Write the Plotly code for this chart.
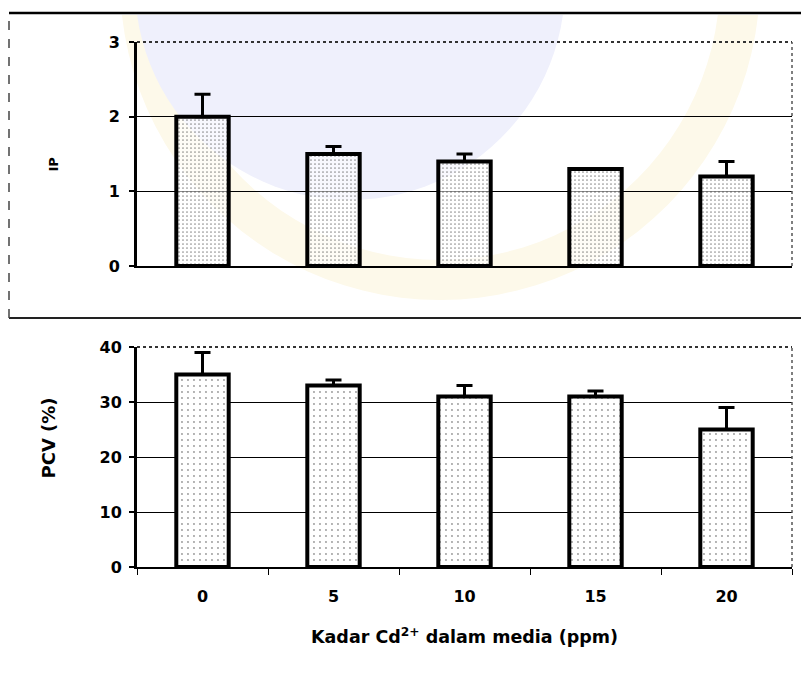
import math
import plotly.graph_objects as go

categories = ["0", "5", "10", "15", "20"]
ip_values = [2.0, 1.5, 1.4, 1.3, 1.2]
ip_errors = [0.3, 0.1, 0.1, 0.0, 0.2]
pcv_values = [35, 33, 31, 31, 25]
pcv_errors = [4, 1, 2, 1, 4]
ip_ticks = [0, 1, 2, 3]
pcv_ticks = [0, 10, 20, 30, 40]

# page body has an 8px margin; figure sized to fit the window exactly
OFF = 8
W, H = 809 - OFF, 682 - OFF
def px_x(p): return (p - OFF) / W
def px_y(p): return 1 - (p - OFF) / H

FONT = "DejaVu Sans, Arial, sans-serif"
tick_font = dict(family=FONT, size=16, color="black", weight="bold")
pattern_top = dict(shape=".", fgcolor="#222", bgcolor="rgba(255,255,255,0.55)",
                   size=4, solidity=0.15)
pattern_bot = dict(shape=".", fgcolor="#333", bgcolor="white", size=6, solidity=0.08)

fig = go.Figure()
fig.add_trace(go.Bar(
    x=categories, y=ip_values, xaxis="x", yaxis="y", width=0.4,
    marker=dict(color="rgba(255,255,255,0.55)", line=dict(color="black", width=4),
                pattern=pattern_top),
    error_y=dict(type="data", symmetric=False, array=ip_errors,
                 arrayminus=[0] * len(ip_errors), color="black", thickness=3, width=8),
    showlegend=False))
fig.add_trace(go.Bar(
    x=categories, y=pcv_values, xaxis="x2", yaxis="y2", width=0.4,
    marker=dict(color="white", line=dict(color="black", width=4), pattern=pattern_bot),
    error_y=dict(type="data", symmetric=False, array=pcv_errors,
                 arrayminus=[0] * len(pcv_errors), color="black", thickness=3, width=8),
    showlegend=False))

xdom = [px_x(137), px_x(792)]

fig.update_layout(
    width=W, height=H,
    margin=dict(l=0, r=0, t=0, b=0, autoexpand=False),
    paper_bgcolor="white", plot_bgcolor="rgba(0,0,0,0)",
    font=dict(family=FONT, color="black"),
    xaxis=dict(domain=xdom, anchor="y", type="category", showticklabels=False,
               showline=True, linecolor="black", linewidth=2, ticks="",
               showgrid=False, automargin=False),
    yaxis=dict(domain=[px_y(266), px_y(42)], anchor="x", range=[0, 3],
               tickvals=ip_ticks, ticks="outside", ticklen=5, tickwidth=2,
               tickcolor="black", showline=True, linecolor="black", linewidth=3,
               showgrid=True, gridcolor="black", gridwidth=1,
               tickfont=tick_font, ticklabelstandoff=6,
               zeroline=False, automargin=False),
    xaxis2=dict(domain=xdom, anchor="y2", type="category", tickson="boundaries",
                ticks="outside", ticklen=6, tickwidth=1, tickcolor="black",
                showline=True, linecolor="black", linewidth=2,
                tickfont=tick_font, ticklabelstandoff=14,
                showgrid=False, automargin=False),
    yaxis2=dict(domain=[px_y(567), px_y(347)], anchor="x2", range=[0, 40],
                tickvals=pcv_ticks, ticks="outside", ticklen=5, tickwidth=2,
                tickcolor="black", showline=True, linecolor="black", linewidth=3,
                showgrid=True, gridcolor="black", gridwidth=1,
                tickfont=tick_font, ticklabelstandoff=4,
                zeroline=False, automargin=False),
)

# axis titles
fig.add_annotation(text="<b>IP</b>", xref="paper", yref="paper",
                   x=px_x(43), y=px_y(156), showarrow=False, textangle=-90,
                   font=dict(family=FONT, size=13, color="black"))
fig.add_annotation(text="<b>PCV (%)</b>", xref="paper", yref="paper",
                   x=px_x(35), y=px_y(438), showarrow=False, textangle=-90,
                   font=dict(family=FONT, size=18, color="black"))
fig.add_annotation(text="<b>Kadar Cd<sup>2+</sup> dalam media (ppm)</b>",
                   xref="paper", yref="paper", x=px_x(465), y=px_y(649),
                   showarrow=False, font=dict(family=FONT, size=17.5, color="black"))

# faint watermark emblem in the background, clipped below the top frame line
CLIP = 15
def arc(cx, cy, r, a0, a1, n=48):
    pts = []
    for i in range(n + 1):
        a = a0 + (a1 - a0) * i / n
        pts.append((cx + r * math.cos(a), cy + r * math.sin(a)))
    return pts
def clip_angle(cy, r):
    return math.asin((CLIP - cy) / r)
def to_path(pts):
    return "M " + " L ".join(f"{px_x(x):.5f},{px_y(y):.5f}" for x, y in pts) + " Z"

bx, by, br = 350, -15, 215
ab = clip_angle(by, br)
disk = arc(bx, by, br, ab, math.pi - ab)
rx, ry, r_out, r_in = 440, -20, 320, 280
ao, ai = clip_angle(ry, r_out), clip_angle(ry, r_in)
ring = arc(rx, ry, r_out, ao, math.pi - ao) + arc(rx, ry, r_in, math.pi - ai, ai)

shapes = [
    dict(type="path", xref="paper", yref="paper", layer="below", path=to_path(ring),
         fillcolor="#fdf9ea", line=dict(width=0)),
    dict(type="path", xref="paper", yref="paper", layer="below", path=to_path(disk),
         fillcolor="#eff0fc", line=dict(width=0)),
]
for xa, ya in (("x", "y"), ("x2", "y2")):
    shapes.append(dict(type="line", xref=f"{xa} domain", yref=f"{ya} domain",
                       x0=0, x1=1, y0=1, y1=1,
                       line=dict(color="#333", width=2, dash="dot")))
    shapes.append(dict(type="line", xref=f"{xa} domain", yref=f"{ya} domain",
                       x0=1, x1=1, y0=0, y1=1,
                       line=dict(color="#555", width=1.5, dash="dot")))
shapes.append(dict(type="line", xref="paper", yref="paper",
                   x0=px_x(9), x1=1, y0=px_y(13), y1=px_y(13),
                   line=dict(color="black", width=2.5), layer="above"))
shapes.append(dict(type="line", xref="paper", yref="paper",
                   x0=px_x(9), x1=1, y0=px_y(318), y1=px_y(318),
                   line=dict(color="#222", width=2)))
shapes.append(dict(type="line", xref="paper", yref="paper",
                   x0=px_x(9), x1=px_x(9), y0=px_y(318), y1=px_y(13),
                   line=dict(color="#444", width=1.5, dash="dash")))
shapes.append(dict(type="line", xref="paper", yref="paper",
                   x0=px_x(7), x1=px_x(7), y0=px_y(670), y1=px_y(318),
                   line=dict(color="#666", width=1.5, dash="dot")))
fig.update_layout(shapes=shapes)

fig.write_html("out.html")
